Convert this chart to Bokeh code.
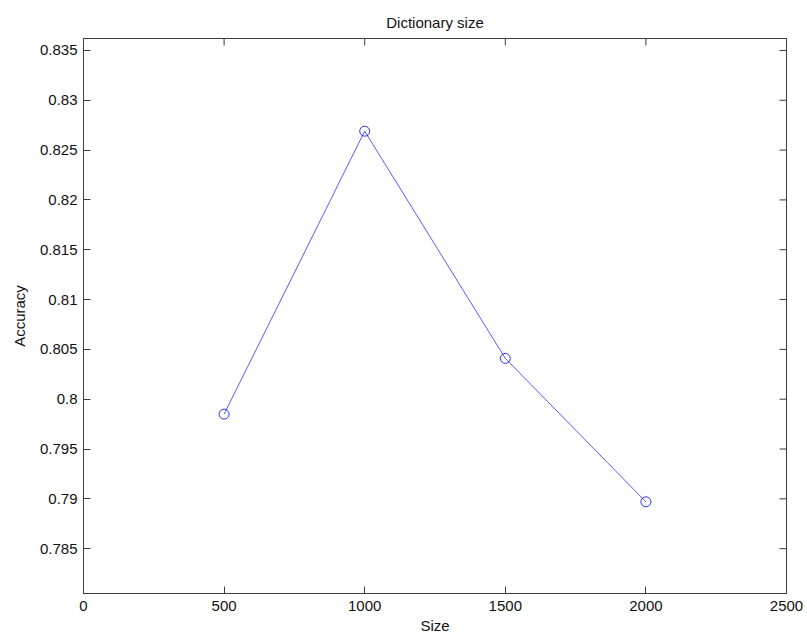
import math
from bokeh.plotting import figure
from bokeh.models import (LinearAxis, FixedTicker, CustomJSTickFormatter,
                          Range1d, ColumnDataSource)
from bokeh.embed import file_html
from bokeh.resources import INLINE

# ---- data ----
sizes = [500, 1000, 1500, 2000]
accuracy = [0.7985, 0.8269, 0.8041, 0.7897]
x_ticks = [0, 500, 1000, 1500, 2000, 2500]
y_ticks = [0.785, 0.79, 0.795, 0.8, 0.805, 0.81, 0.815, 0.82, 0.825, 0.83, 0.835]
title_text = "Dictionary size"
x_label = "Size"
y_label = "Accuracy"

FONT = "Liberation Sans"
AX_COLOR = "#3c3c3c"
TXT_COLOR = "#111111"

X0, X1 = 0, 2500
Y0, Y1 = 0.7805, 0.8362

p = figure(width=807, height=636, output_backend="svg", toolbar_location=None,
           x_range=Range1d(X0, X1), y_range=Range1d(Y0, Y1),
           x_axis_type=None, y_axis_type=None,
           min_border_left=83, min_border_right=21,
           min_border_top=38, min_border_bottom=43)

p.title.text = title_text
p.title.align = "center"
p.title.text_font = FONT
p.title.text_font_size = "15px"
p.title.text_font_style = "normal"
p.title.text_color = TXT_COLOR
p.title.standoff = 16

p.grid.visible = False
p.outline_line_color = AX_COLOR
p.outline_line_width = 1
p.outline_line_alpha = 1
p.background_fill_color = "white"
p.border_fill_color = "white"

fmt = CustomJSTickFormatter(code="return String(Math.round(tick*100000)/100000);")

def style(ax):
    ax.axis_line_color = AX_COLOR
    ax.axis_line_width = 1
    ax.major_tick_line_color = AX_COLOR
    ax.major_tick_in = 7
    ax.major_tick_out = 0
    ax.minor_tick_line_color = None
    ax.major_label_text_font = FONT
    ax.major_label_text_font_size = "15px"
    ax.major_label_text_color = TXT_COLOR
    ax.axis_label_text_font = FONT
    ax.axis_label_text_font_size = "15px"
    ax.axis_label_text_font_style = "normal"
    ax.axis_label_text_color = TXT_COLOR

xb = LinearAxis(ticker=FixedTicker(ticks=x_ticks), formatter=fmt, axis_label=x_label)
style(xb)
xb.major_label_standoff = 7
xb.axis_label_standoff = 3
p.add_layout(xb, "below")

yl = LinearAxis(ticker=FixedTicker(ticks=y_ticks), formatter=fmt, axis_label=y_label)
style(yl)
yl.major_label_standoff = 6
yl.axis_label_standoff = 9
p.add_layout(yl, "left")

# MATLAB-style box ticks on top and right edges (half of each dash is clipped by the frame)
p.scatter(x=x_ticks, y=[Y1] * len(x_ticks), marker="dash", angle=math.pi / 2,
          size=14, line_color=AX_COLOR, line_width=1)
p.scatter(x=[X1] * len(y_ticks), y=y_ticks, marker="dash",
          size=14, line_color=AX_COLOR, line_width=1)

src = ColumnDataSource(dict(x=sizes, y=accuracy))
p.line("x", "y", source=src, line_color="#0000ff", line_width=1, line_alpha=0.65)
p.scatter("x", "y", source=src, marker="circle", size=10, fill_color=None,
          line_color="#0000ff", line_width=1, line_alpha=0.8)

open("out.html", "w").write(file_html(p, INLINE))
